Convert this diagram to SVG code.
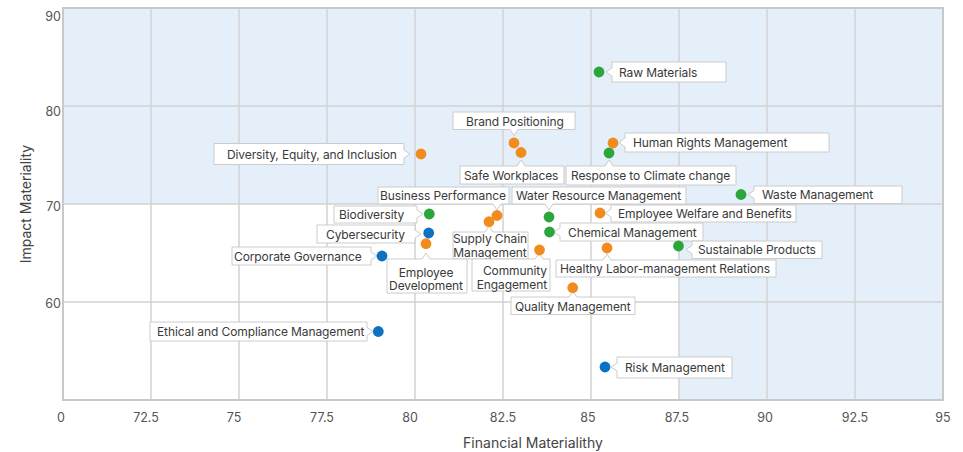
<svg xmlns="http://www.w3.org/2000/svg" width="963" height="452" viewBox="0 0 963 452">
<style>
.bg{fill:#e5eff9}
.grid{stroke:#d2d2d2;stroke-width:1.5;fill:none}
.frame{stroke:#c9c9c9;stroke-width:2;fill:none}
.tick{font-family:Inter,"Liberation Sans",sans-serif;font-size:12.5px;fill:#555}
.title{font-family:Inter,"Liberation Sans",sans-serif;font-size:14px;fill:#444}
.box{fill:#fff;stroke:#cccccc;stroke-width:1}
.lbl{font-family:Inter,"Liberation Sans",sans-serif;font-size:12px;letter-spacing:-0.1px;fill:#3a3a3a;dominant-baseline:central}
.g{fill:#2ca63c}.o{fill:#f28b1d}.b{fill:#0a71c3}
</style>
<rect x="0" y="0" width="963" height="452" fill="#fff"/>
<g id="plot-background">
<rect class="bg" x="63" y="8" width="880" height="196"/>
<rect class="bg" x="679" y="204" width="264" height="196"/>
</g>
<g id="grid">
<path class="grid" d="M151 8V400M239 8V400M327 8V400M415 8V400M503 8V400M591 8V400M679 8V400M767 8V400M855 8V400M63 106H943M63 204H943M63 302H943"/>
<rect class="frame" x="63" y="8" width="880" height="392"/>
</g>
<g id="axis-labels">
<text class="tick" x="61" y="16" text-anchor="end" dominant-baseline="central">90</text>
<text class="tick" x="61" y="111" text-anchor="end" dominant-baseline="central">80</text>
<text class="tick" x="61" y="206" text-anchor="end" dominant-baseline="central">70</text>
<text class="tick" x="61" y="303" text-anchor="end" dominant-baseline="central">60</text>
<text class="tick" x="61" y="417" text-anchor="middle" dominant-baseline="central">0</text>
<text class="tick" x="146" y="417" text-anchor="middle" dominant-baseline="central">72.5</text>
<text class="tick" x="234" y="417" text-anchor="middle" dominant-baseline="central">75</text>
<text class="tick" x="322" y="417" text-anchor="middle" dominant-baseline="central">77.5</text>
<text class="tick" x="410" y="417" text-anchor="middle" dominant-baseline="central">80</text>
<text class="tick" x="503" y="417" text-anchor="middle" dominant-baseline="central">82.5</text>
<text class="tick" x="588" y="417" text-anchor="middle" dominant-baseline="central">85</text>
<text class="tick" x="677" y="417" text-anchor="middle" dominant-baseline="central">87.5</text>
<text class="tick" x="765" y="417" text-anchor="middle" dominant-baseline="central">90</text>
<text class="tick" x="855" y="417" text-anchor="middle" dominant-baseline="central">92.5</text>
<text class="tick" x="943" y="417" text-anchor="middle" dominant-baseline="central">95</text>
<text class="title" x="533" y="442" text-anchor="middle" dominant-baseline="central">Financial Materialithy</text>
<text class="title" x="25" y="204" text-anchor="middle" dominant-baseline="central" transform="rotate(-90 25 204)">Impact Materiality</text>
</g>
<g id="connectors"></g>
<g id="n-raw-materials"><path class="box" d="M612 62H726V82H612V76L606 72L612 68Z"/><text class="lbl" x="619" y="72">Raw Materials</text></g>
<g id="n-human-rights"><path class="box" d="M625 133H829V152H625V147L619 142.5L625 138Z"/><text class="lbl" x="633" y="142.5">Human Rights Management</text></g>
<g id="n-climate"><path class="box" d="M566 166H605L609 160L613 166H736V185H566Z"/><text class="lbl" x="571" y="175.5">Response to Climate change</text></g>
<g id="n-waste"><path class="box" d="M754 186H902V203.5H754V198.5L748 194.5L754 190.5Z"/><text class="lbl" x="762" y="194.8">Waste Management</text></g>
<g id="n-welfare"><path class="box" d="M611 205H796V222H611V217L605 213L611 209Z"/><text class="lbl" x="618" y="213.5">Employee Welfare and Benefits</text></g>
<g id="n-chemical"><path class="box" d="M560 223H703V241H560V236L554 232L560 228Z"/><text class="lbl" x="568" y="232">Chemical Management</text></g>
<g id="n-sustainable"><path class="box" d="M692 241H822V258.5H692V253.5L686 249.5L692 245.5Z"/><text class="lbl" x="698" y="249.8">Sustainable Products</text></g>
<g id="n-healthy-labor"><path class="box" d="M556 260H603L607 254L611 260H776V277H556Z"/><text class="lbl" x="560" y="268.5">Healthy Labor-management Relations</text></g>
<g id="n-water"><path class="box" d="M512 187H686V204H553L549 210L545 204H512Z"/><text class="lbl" x="516" y="195.5">Water Resource Management</text></g>
<g id="n-brand"><path class="box" d="M453 112H575V129.5H518L514 135.5L510 129.5H453Z"/><text class="lbl" x="466" y="121">Brand Positioning</text></g>
<g id="n-safe"><path class="box" d="M460 166H517L521 160L525 166H564V184H460Z"/><text class="lbl" x="464" y="175">Safe Workplaces</text></g>
<g id="n-business"><path class="box" d="M378 187H509V204H501L497 210L493 204H378Z"/><text class="lbl" x="380" y="195.5">Business Performance</text></g>
<g id="n-supply-chain"><path class="box" d="M453 232H485L489 226L493 232H528V259H453Z"/><text class="lbl" x="490" y="238.5" text-anchor="middle">Supply Chain</text><text class="lbl" x="490" y="252.5" text-anchor="middle">Management</text></g>
<g id="n-community"><path class="box" d="M472 259H535L539 253.5L543 259H550V291H472Z"/><text class="lbl" x="547" y="270.7" text-anchor="end">Community</text><text class="lbl" x="547" y="284.3" text-anchor="end">Engagement</text></g>
<g id="n-employee-dev"><path class="box" d="M387 259H422L426 253L430 259H467V293H387Z"/><text class="lbl" x="426" y="272" text-anchor="middle">Employee</text><text class="lbl" x="426" y="285.5" text-anchor="middle">Development</text></g>
<g id="n-quality"><path class="box" d="M511 297H569L573 292L577 297H635V314.5H511Z"/><text class="lbl" x="515" y="306">Quality Management</text></g>
<g id="n-cyber"><path class="box" d="M317 225H415V230L421 234L415 238V243H317Z"/><text class="lbl" x="326" y="234">Cybersecurity</text></g>
<g id="n-biodiversity"><path class="box" d="M334 206H417V210L423 214L417 218V223H334Z"/><text class="lbl" x="339" y="214.5">Biodiversity</text></g>
<g id="n-diversity"><path class="box" d="M214 143.5H404V150L410 154L404 158V164.5H214Z"/><text class="lbl" x="227" y="154">Diversity, Equity, and Inclusion</text></g>
<g id="n-corporate"><path class="box" d="M232 247H371V252L377 256L371 260V265H232Z"/><text class="lbl" x="234" y="256">Corporate Governance</text></g>
<g id="n-ethical"><path class="box" d="M150 322H367V327.5L373 331.5L367 335.5V341H150Z"/><text class="lbl" x="157" y="331.5">Ethical and Compliance Management</text></g>
<g id="n-risk"><path class="box" d="M617 357H732V378H617V371L611 367L617 363Z"/><text class="lbl" x="625" y="367.5">Risk Management</text></g>
<g id="points">
<circle class="g" cx="599" cy="72" r="5.4"/>
<circle class="o" cx="613" cy="143" r="5.4"/>
<circle class="g" cx="609" cy="153" r="5.4"/>
<circle class="g" cx="741" cy="194.5" r="5.4"/>
<circle class="o" cx="600" cy="213" r="5.4"/>
<circle class="g" cx="549.5" cy="232" r="5.4"/>
<circle class="g" cx="678.5" cy="246" r="5.4"/>
<circle class="o" cx="607" cy="248" r="5.4"/>
<circle class="g" cx="549" cy="217" r="5.4"/>
<circle class="o" cx="514" cy="143" r="5.4"/>
<circle class="o" cx="521" cy="152.5" r="5.4"/>
<circle class="o" cx="489" cy="221.7" r="5.4"/>
<circle class="o" cx="497" cy="215.5" r="5.4"/>
<circle class="o" cx="539.5" cy="250" r="5.4"/>
<circle class="o" cx="572.7" cy="287.7" r="5.4"/>
<circle class="o" cx="426" cy="243.7" r="5.4"/>
<circle class="b" cx="428.7" cy="233" r="5.4"/>
<circle class="g" cx="429.3" cy="214" r="5.4"/>
<circle class="o" cx="421" cy="154" r="5.4"/>
<circle class="b" cx="382" cy="256" r="5.4"/>
<circle class="b" cx="378.3" cy="331.5" r="5.4"/>
<circle class="b" cx="605" cy="367" r="5.4"/>
</g>
</svg>
